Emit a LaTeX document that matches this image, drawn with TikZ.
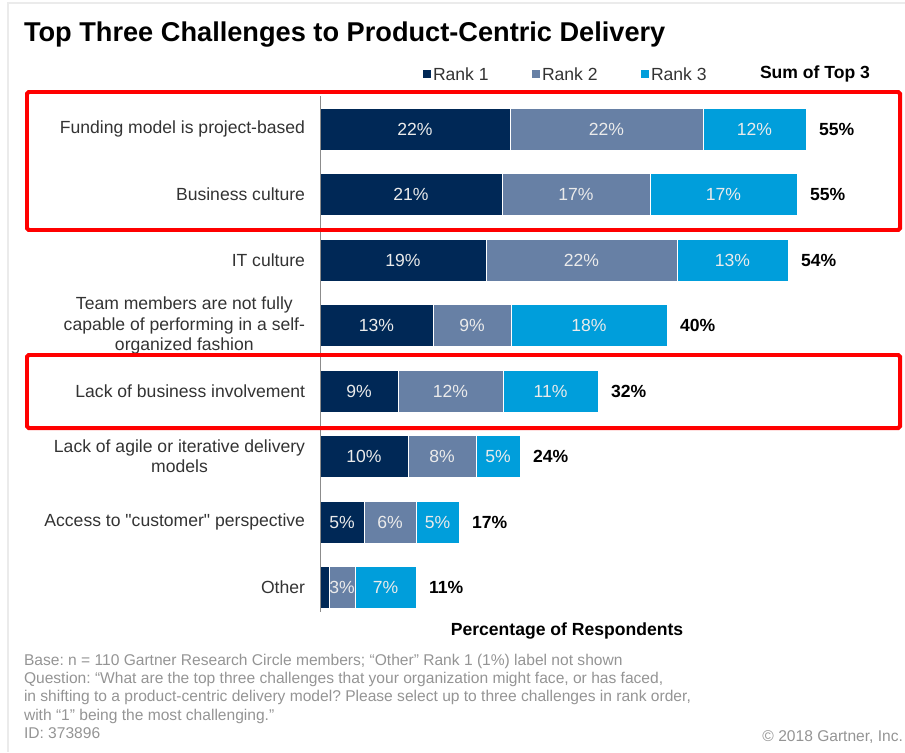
\documentclass[tikz,border=0pt]{standalone}
\usepackage{fontspec}
\setmainfont{Liberation Sans}
\definecolor{RankOne}{RGB}{0,40,86}
\definecolor{RankTwo}{RGB}{103,128,165}
\definecolor{RankThree}{RGB}{0,158,219}
\colorlet{LabelText}{black!80}
\colorlet{NoteText}{black!42}
\colorlet{FrameLine}{black!8}
\colorlet{Highlight}{red}
\frenchspacing

\begin{document}
\begin{tikzpicture}[x=0.03cm,y=-0.03cm,
  every node/.style={inner sep=0pt, outer sep=0pt},
  catlabel/.style={anchor=east, align=center, text=LabelText, font=\fontsize{15}{17.4}\selectfont},
  barlabel/.style={text=white!92!black, font=\fontsize{15}{17}\selectfont},
  sumlabel/.style={anchor=west, font=\bfseries\fontsize{15}{17}\selectfont},
  segment/.style={draw=white, line width=0.8pt},
  legendbox/.style={minimum size=6pt}]

\useasboundingbox (0,0) rectangle (905,752);

% Marco
\draw[FrameLine, line width=1.5pt] (905,3) -- (8,3) -- (8,752);

\node[anchor=base west, font=\bfseries\fontsize{23.2}{27}\selectfont] (titulo) at (24,41)
  {Top Three Challenges to Product-Centric Delivery};

% Leyenda
\node[legendbox, fill=RankOne] (ley1) at (427,74) {};
\node[legendbox, fill=RankTwo] (ley2) at (536,74) {};
\node[legendbox, fill=RankThree] (ley3) at (645,74) {};
\node[anchor=west, font=\fontsize{15}{17}\selectfont, text=LabelText] (rank1) at (433,74) {Rank 1};
\node[anchor=west, font=\fontsize{15}{17}\selectfont, text=LabelText] (rank2) at (542,74) {Rank 2};
\node[anchor=west, font=\fontsize{15}{17}\selectfont, text=LabelText] (rank3) at (651,74) {Rank 3};
\node[anchor=west, font=\bfseries\fontsize{15}{17}\selectfont] (suma) at (760,74) {Sum of Top 3};

% Barras
\foreach \a/\b/\c/\pa/\pb/\pc/\s/\txt [count=\i] in {
  510/703/806/22\%/22\%/12\%/55\%/{Funding model is project-based},
  502/650/797/21\%/17\%/17\%/55\%/{Business culture},
  486/677/788/19\%/22\%/13\%/54\%/{IT culture},
  433/511/667/13\%/9\%/18\%/40\%/{Team members are not fully\\capable of performing in a self-\\organized fashion},
  398/503/598/9\%/12\%/11\%/32\%/{Lack of business involvement},
  408/476/520/10\%/8\%/5\%/24\%/{Lack of agile or iterative delivery\\models},
  364/416/459/5\%/6\%/5\%/17\%/{Access to \textquotedbl customer\textquotedbl\ perspective},
  329/355/416//3\%/7\%/11\%/{Other}}
{
  \pgfmathsetmacro{\y}{129+65.5*(\i-1)}
  \fill[RankOne, segment] (320,\y-21) rectangle (\a,\y+21);
  \fill[RankTwo, segment] (\a,\y-21) rectangle (\b,\y+21);
  \fill[RankThree, segment] (\b,\y-21) rectangle (\c,\y+21);
  \node[barlabel] (uno\i) at ({(320+\a)/2},\y) {\pa};
  \node[barlabel] (dos\i) at ({(\a+\b)/2},\y) {\pb};
  \node[barlabel] (tres\i) at ({(\b+\c)/2},\y) {\pc};
  \node[sumlabel] (tot\i) at (\c+13,\y) {\s};
  \node[catlabel] (cat\i) at (305,\y) {\txt};
}

% Eje
\draw[black!45, line width=0.8pt] (320,96) -- (320,612);

\node[font=\bfseries\fontsize{15}{17}\selectfont] (eje) at (567,631) {Percentage of Respondents};

% Recuadros
\draw[Highlight, line width=3.4pt, rounded corners=1.5pt] (27,92) rectangle (900,230);
\draw[Highlight, line width=3.4pt, rounded corners=1.5pt] (27,355) rectangle (900,428);

% Notas
\node[anchor=north west, align=left, text=NoteText, font=\fontsize{13.3}{15.6}\selectfont] (nota) at (24,654)
  {Base: n = 110 Gartner Research Circle members; ``Other'' Rank 1 (1\%) label not shown\\
   Question: ``What are the top three challenges that your organization might face, or has faced,\\
   in shifting to a product-centric delivery model? Please select up to three challenges in rank order,\\
   with ``1'' being the most challenging.''\\
   ID: 373896};
\node[anchor=east, text=NoteText, font=\fontsize{13.3}{15}\selectfont] (copy) at (903,737) {© 2018 Gartner, Inc.};

\end{tikzpicture}
\end{document}
